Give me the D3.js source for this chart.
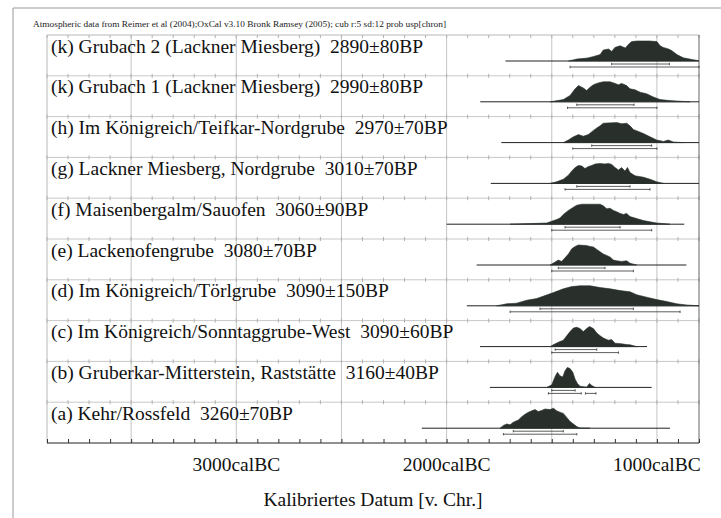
<!DOCTYPE html>
<html><head><meta charset="utf-8">
<script src="https://cdn.jsdelivr.net/npm/d3@7"></script>
<style>html,body{margin:0;padding:0;background:#fff;}svg{display:block;}</style>
</head><body>
<script>
// ---------- DATA ----------
const header = "Atmospheric data from Reimer et al (2004);OxCal v3.10 Bronk Ramsey (2005); cub r:5 sd:12 prob usp[chron]";
const labels = [
  "(k) Grubach 2 (Lackner Miesberg)  2890±80BP",
  "(k) Grubach 1 (Lackner Miesberg)  2990±80BP",
  "(h) Im Königreich/Teifkar-Nordgrube  2970±70BP",
  "(g) Lackner Miesberg, Nordgrube  3010±70BP",
  "(f) Maisenbergalm/Sauofen  3060±90BP",
  "(e) Lackenofengrube  3080±70BP",
  "(d) Im Königreich/Törlgrube  3090±150BP",
  "(c) Im Königreich/Sonntaggrube-West  3090±60BP",
  "(b) Gruberkar-Mitterstein, Raststätte  3160±40BP",
  "(a) Kehr/Rossfeld  3260±70BP"
];
const tickYears = [3000, 2000, 1000];
const tickLabels = ["3000calBC", "2000calBC", "1000calBC"];
const axisTitle = "Kalibriertes Datum [v. Chr.]";
// [year calBC, relative probability]
const distK2 = [[1420,0],[1380,0.1],[1330,0.15],[1300,0.23],[1270,0.32],[1255,0.55],[1230,0.6],[1215,0.48],[1200,0.68],[1175,0.76],[1150,0.65],[1135,0.84],[1120,0.97],[1095,1],[1035,1],[1000,0.97],[985,0.76],[970,0.68],[945,0.6],[930,0.52],[905,0.32],[875,0.16],[845,0.1],[810,0.03],[800,0]];
const distK1 = [[1508,0],[1445,0.11],[1413,0.32],[1389,0.65],[1373,0.81],[1350,0.69],[1334,0.56],[1318,0.73],[1302,0.85],[1286,0.92],[1270,0.97],[1255,1],[1223,1],[1199,0.92],[1183,0.85],[1168,0.92],[1144,0.81],[1128,0.65],[1104,0.6],[1080,0.48],[1049,0.4],[1017,0.24],[985,0.11],[938,0.06],[874,0.02],[843,0]];
const distH = [[1445,0],[1421,0.13],[1397,0.29],[1373,0.4],[1350,0.32],[1326,0.4],[1302,0.61],[1286,0.73],[1270,0.84],[1255,0.97],[1191,1],[1167,0.94],[1144,0.97],[1128,0.84],[1112,0.65],[1088,0.56],[1064,0.45],[1033,0.29],[1001,0.13],[969,0.06],[946,0.13],[922,0.03],[874,0]];
const distG = [[1508,0],[1477,0.08],[1445,0.21],[1421,0.41],[1405,0.62],[1389,0.79],[1373,0.9],[1357,0.87],[1342,0.74],[1326,0.84],[1310,0.9],[1294,0.97],[1270,1],[1247,0.97],[1231,1],[1215,0.95],[1199,0.79],[1183,0.67],[1168,0.79],[1152,0.62],[1140,0.8],[1128,0.54],[1104,0.38],[1064,0.31],[1033,0.21],[1001,0.08],[969,0]];
const distF = [[1698,0],[1603,0.03],[1524,0.06],[1500,0.15],[1477,0.23],[1461,0.31],[1445,0.49],[1421,0.69],[1397,0.85],[1381,0.95],[1357,1],[1270,1],[1255,0.92],[1239,0.77],[1223,0.8],[1207,0.69],[1191,0.62],[1175,0.54],[1159,0.49],[1144,0.54],[1128,0.38],[1096,0.28],[1064,0.18],[1033,0.12],[1001,0.06],[938,0]];
const distE = [[1508,0],[1484,0.15],[1469,0.25],[1453,0.18],[1437,0.36],[1421,0.55],[1405,0.81],[1389,0.93],[1373,1],[1334,0.97],[1318,0.93],[1302,0.9],[1286,0.78],[1270,0.66],[1255,0.55],[1239,0.48],[1223,0.4],[1207,0.25],[1191,0.21],[1168,0.18],[1144,0.21],[1128,0.09],[1096,0]];
const distD = [[1762,0],[1714,0.1],[1667,0.13],[1619,0.28],[1572,0.36],[1532,0.51],[1492,0.66],[1445,0.85],[1405,0.96],[1366,1],[1318,1],[1270,0.91],[1223,0.85],[1175,0.76],[1128,0.7],[1096,0.55],[1049,0.43],[1001,0.31],[953,0.21],[906,0.1],[858,0.04],[800,0]];
const distC = [[1508,0],[1484,0.14],[1461,0.25],[1445,0.32],[1429,0.54],[1413,0.75],[1397,0.93],[1381,0.97],[1366,0.9],[1350,0.75],[1334,0.9],[1321,1],[1302,0.9],[1286,0.68],[1270,0.54],[1255,0.43],[1231,0.32],[1215,0.35],[1199,0.17],[1168,0.14],[1144,0.1],[1128,0.09],[1096,0]];
const distB = [[1524,0],[1500,0.13],[1484,0.55],[1473,0.76],[1461,0.58],[1448,0.52],[1437,0.83],[1426,1],[1413,0.94],[1400,0.76],[1389,0.41],[1378,0.2],[1366,0.06],[1334,0.01],[1321,0.2],[1310,0.1],[1294,0]];
const distA = [[1746,0],[1730,0.14],[1714,0.21],[1698,0.17],[1683,0.3],[1659,0.41],[1643,0.57],[1627,0.7],[1611,0.8],[1595,0.87],[1580,0.93],[1564,0.83],[1548,0.89],[1532,0.96],[1508,0.93],[1492,1],[1477,0.87],[1461,0.8],[1445,0.74],[1429,0.54],[1413,0.34],[1397,0.21],[1381,0.08],[1366,0.01],[1318,0]];
const dists = [distK2, distK1, distH, distG, distF, distE, distD, distC, distB, distA];
const lineSpans = [[1720,800],[1840,800],[1740,800],[1790,800],[2000,870],[1857,860],[1904,800],[1841,1047],[1794,1025],[2118,938]];
const ranges68 = [[[1215,941]],[[1381,1109]],[[1310,1025]],[[1381,1128]],[[1437,1175]],[[1469,1247]],[[1556,1112]],[[1484,1286]],[[1500,1389]],[[1683,1445]]];
const ranges95 = [[[1413,800]],[[1425,1000]],[[1400,1000]],[[1437,1033]],[[1500,1025]],[[1500,1112]],[[1698,890]],[[1500,1183]],[[1516,1360],[1340,1290]],[[1730,1381]]];

// ---------- LAYOUT ----------
const W = 721, H = 518;
const L = 47, R = 699, T = 35, rowH = 40.8, nRows = labels.length, B = T + rowH * nRows;
const peakH = 20;
const fillCol = "#29302b";

const svg = d3.select("body").append("svg").attr("width", W).attr("height", H)
  .style("font-family", "'Liberation Serif','Times New Roman',serif");

const x = d3.scaleLinear().domain([3900, 800]).range([L, R]);

// outer border
svg.append("path").attr("d", `M13,${H} V8 H${W}`).attr("fill", "none").attr("stroke", "#9a9a9a").attr("stroke-width", 1);

// header
svg.append("text").attr("x", 33).attr("y", 27).attr("font-size", 8).attr("fill", "#222")
  .attr("textLength", 413).attr("lengthAdjust", "spacingAndGlyphs").text(header);

// vertical grid lines every 500 years
const gridYears = d3.range(3500, 799, -500);
svg.append("g").selectAll("line").data(gridYears).join("line")
  .attr("x1", d => x(d)).attr("x2", d => x(d)).attr("y1", T).attr("y2", B)
  .attr("stroke", "#c4c4c4").attr("stroke-width", 1);

// row separators with ticks
const minorYears = d3.range(3900, 799, -100);
for (let i = 0; i <= nRows; i++) {
  const y = T + i * rowH;
  if (i > 0 && i < nRows) {
    svg.append("line").attr("x1", L).attr("x2", R).attr("y1", y).attr("y2", y)
      .attr("stroke", "#c8c8c8").attr("stroke-width", 1);
    svg.append("g").selectAll("line").data(minorYears).join("line")
      .attr("x1", d => x(d)).attr("x2", d => x(d)).attr("y1", y - 2).attr("y2", y + 2)
      .attr("stroke", "#b0b0b0").attr("stroke-width", 1);
  }
}
// top frame ticks
svg.append("g").selectAll("line").data(minorYears).join("line")
  .attr("x1", d => x(d)).attr("x2", d => x(d)).attr("y1", T).attr("y2", T + 3)
  .attr("stroke", "#b0b0b0").attr("stroke-width", 1);

// frame
svg.append("line").attr("x1", L).attr("x2", R).attr("y1", T).attr("y2", T).attr("stroke", "#b8b8b8");
svg.append("line").attr("x1", L).attr("x2", L).attr("y1", T).attr("y2", B).attr("stroke", "#b8b8b8");
svg.append("line").attr("x1", R).attr("x2", R).attr("y1", T).attr("y2", B).attr("stroke", "#666");

// rows
const area = d3.area().x(d => x(d[0])).curve(d3.curveLinear);
labels.forEach((lab, i) => {
  const top = T + i * rowH;
  const base = top + 26;
  svg.append("text").attr("x", 51).attr("y", top + 17.5).attr("font-size", 19.5)
    .attr("fill", "#111").style("white-space", "pre").text(lab);
  // baseline
  const sp = lineSpans[i];
  svg.append("line").attr("x1", x(sp[0])).attr("x2", x(sp[1])).attr("y1", base).attr("y2", base)
    .attr("stroke", "#222").attr("stroke-width", 1);
  // distribution
  svg.append("path").datum(dists[i])
    .attr("d", area.y0(base).y1(d => base - d[1] * peakH))
    .attr("fill", fillCol).attr("stroke", fillCol).attr("stroke-width", 0.6);
  // 68.2% ranges
  ranges68[i].forEach(r => {
    const y = base + 3;
    svg.append("path").attr("d", `M${x(r[0])},${y - 1.2}V${y + 1.2}M${x(r[0])},${y}H${x(r[1])}M${x(r[1])},${y - 1.2}V${y + 1.2}`)
      .attr("stroke", "#333").attr("stroke-width", 0.8).attr("fill", "none");
  });
  // 95.4% ranges
  ranges95[i].forEach(r => {
    const y = base + 6;
    svg.append("path").attr("d", `M${x(r[0])},${y - 1.2}V${y + 1.2}M${x(r[0])},${y}H${x(r[1])}M${x(r[1])},${y - 1.2}V${y + 1.2}`)
      .attr("stroke", "#333").attr("stroke-width", 0.8).attr("fill", "none");
  });
});

// bottom axis
const axis = d3.axisBottom(x).tickValues(minorYears).tickSize(-4).tickFormat("");
const ag = svg.append("g").attr("transform", `translate(0,${B})`).call(axis);
ag.select(".domain").attr("stroke", "#222").attr("d", `M${L},0H${R}`);
ag.selectAll(".tick line").attr("stroke", "#333");

svg.append("g").selectAll("text").data(tickYears).join("text")
  .attr("x", d => x(d)).attr("y", 471).attr("text-anchor", "middle").attr("font-size", 19.5)
  .attr("fill", "#111").text((d, i) => tickLabels[i]);

svg.append("text").attr("x", 373).attr("y", 506).attr("text-anchor", "middle").attr("font-size", 19.5)
  .attr("fill", "#111").text(axisTitle);
</script>
</body></html>
